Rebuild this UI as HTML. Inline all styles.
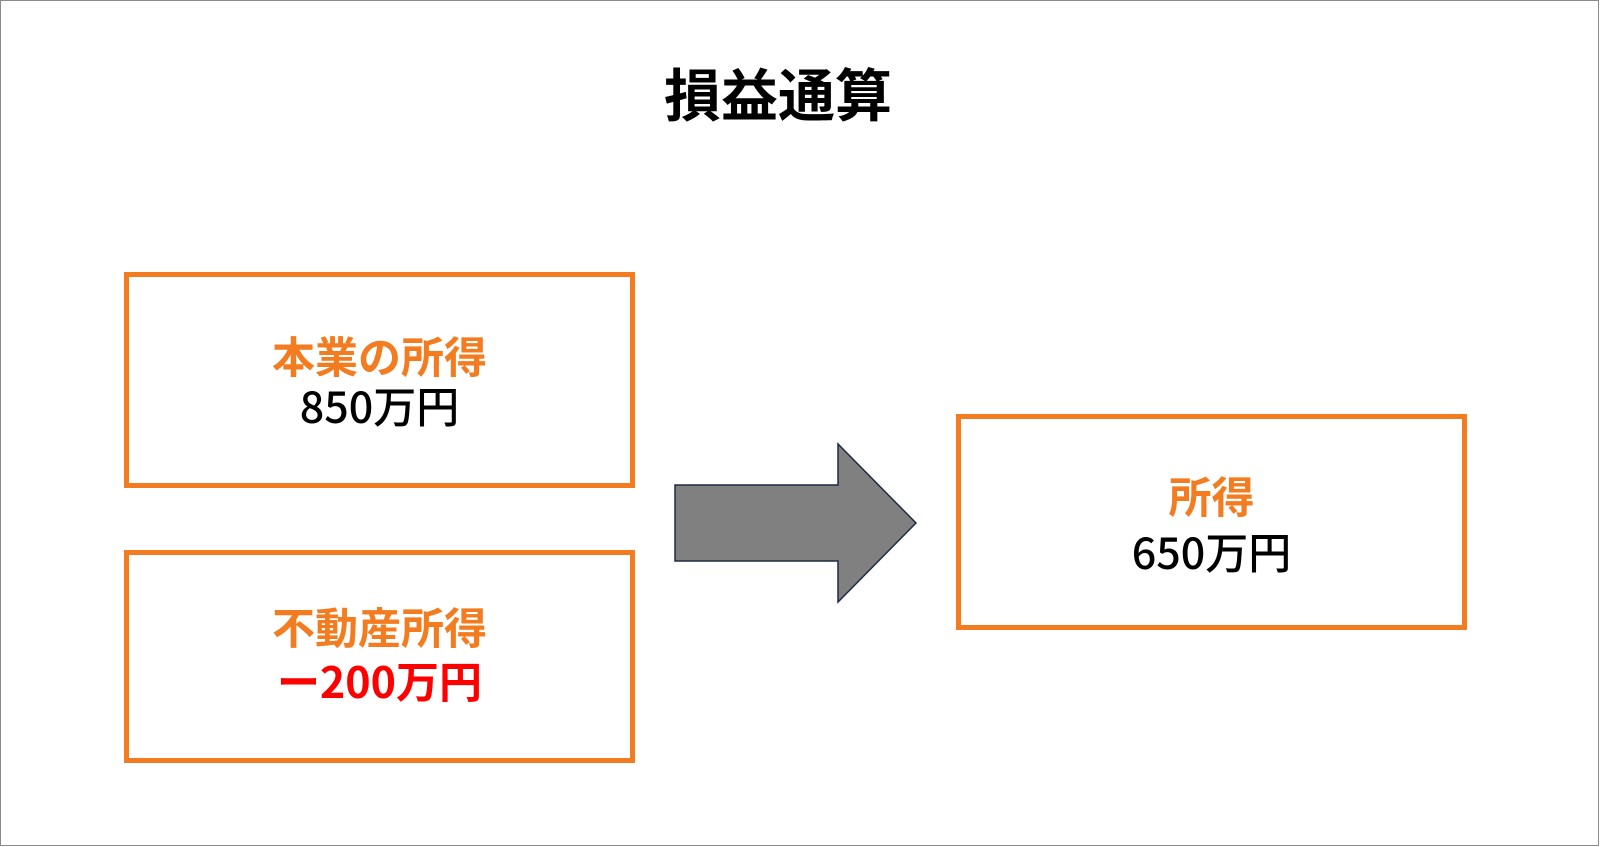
<!DOCTYPE html>
<html><head><meta charset="utf-8"><style>
body{margin:0;width:1600px;height:847px;background:#fff;overflow:hidden;font-family:"Noto Sans CJK JP","Liberation Sans",sans-serif}
.frame{position:absolute;left:0;top:0;width:1597px;height:844px;border:1.5px solid #8a8a8a}
.box{position:absolute;border:5px solid #F47C20;box-sizing:border-box}
.t{position:absolute;left:0;right:0;text-align:center;font-size:43px;font-weight:bold;line-height:1}
.o{color:#F47C20}.k{color:#000;font-weight:500}.r{color:#FF0000}
</style></head><body>
<div class="frame"></div>
<div style="position:absolute;left:0;width:1556px;top:64px;text-align:center;font-size:57px;font-weight:bold;line-height:1;color:#000">損益通算</div>
<div class="box" style="left:124px;top:272px;width:511px;height:216px">
<div class="t o" style="top:57px">本業の所得</div><div class="t k" style="top:107px">850万円</div></div>
<div class="box" style="left:124px;top:550px;width:511px;height:213px">
<div class="t o" style="top:50px">不動産所得</div><div class="t r" style="top:104px">ー200万円</div></div>
<div class="box" style="left:956px;top:414px;width:511px;height:216px">
<div class="t o" style="top:55px">所得</div><div class="t k" style="top:111px">650万円</div></div>
<svg style="position:absolute;left:0;top:0" width="1600" height="847"><polygon points="675,485 838,485 838,444 916,523 838,602 838,561 675,561" fill="#808080" stroke="#1F2A44" stroke-width="1.5"/></svg>
</body></html>
